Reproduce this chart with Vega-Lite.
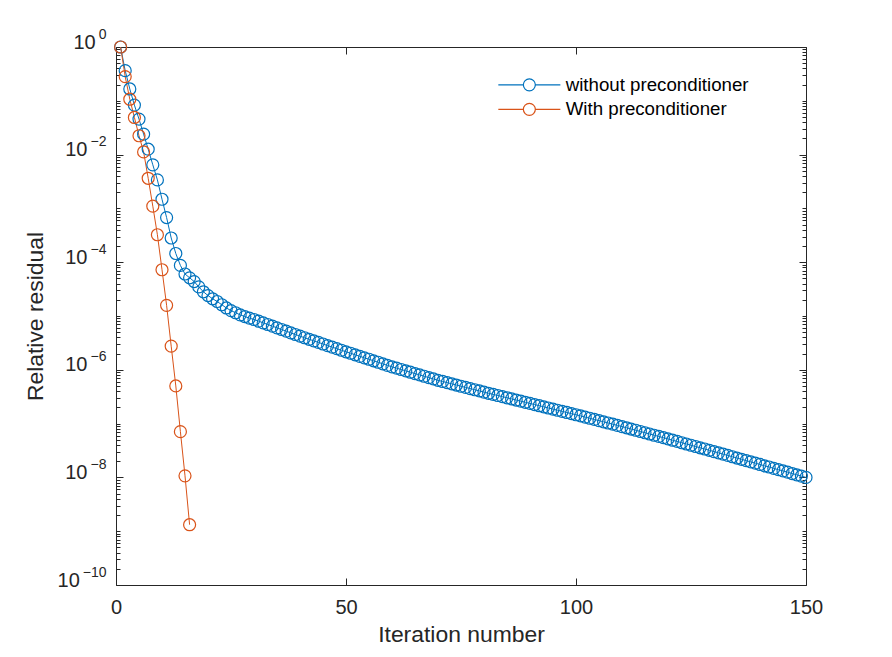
{
  "$schema": "https://vega.github.io/schema/vega-lite/v6.json",
  "autosize": {"type": "none"},
  "padding": {"left": 116, "top": 47, "right": 86, "bottom": 72},
  "width": 690,
  "height": 538,
  "background": "white",
  "data": {"name": "d"},
  "datasets": {
    "d": [
      {"i":1,"r":1,"s":"without preconditioner"},
      {"i":2,"r":0.363,"s":"without preconditioner"},
      {"i":3,"r":0.166,"s":"without preconditioner"},
      {"i":4,"r":0.0832,"s":"without preconditioner"},
      {"i":5,"r":0.0457,"s":"without preconditioner"},
      {"i":6,"r":0.024,"s":"without preconditioner"},
      {"i":7,"r":0.0126,"s":"without preconditioner"},
      {"i":8,"r":0.00646,"s":"without preconditioner"},
      {"i":9,"r":0.00339,"s":"without preconditioner"},
      {"i":10,"r":0.00148,"s":"without preconditioner"},
      {"i":11,"r":6.76e-4,"s":"without preconditioner"},
      {"i":12,"r":2.82e-4,"s":"without preconditioner"},
      {"i":13,"r":1.45e-4,"s":"without preconditioner"},
      {"i":14,"r":8.71e-5,"s":"without preconditioner"},
      {"i":15,"r":6.03e-5,"s":"without preconditioner"},
      {"i":16,"r":5.13e-5,"s":"without preconditioner"},
      {"i":17,"r":4.37e-5,"s":"without preconditioner"},
      {"i":18,"r":3.47e-5,"s":"without preconditioner"},
      {"i":19,"r":2.82e-5,"s":"without preconditioner"},
      {"i":20,"r":2.4e-5,"s":"without preconditioner"},
      {"i":21,"r":2.09e-5,"s":"without preconditioner"},
      {"i":22,"r":1.86e-5,"s":"without preconditioner"},
      {"i":23,"r":1.62e-5,"s":"without preconditioner"},
      {"i":24,"r":1.41e-5,"s":"without preconditioner"},
      {"i":25,"r":1.26e-5,"s":"without preconditioner"},
      {"i":26,"r":1.15e-5,"s":"without preconditioner"},
      {"i":27,"r":1.05e-5,"s":"without preconditioner"},
      {"i":28,"r":9.77e-6,"s":"without preconditioner"},
      {"i":29,"r":9.12e-6,"s":"without preconditioner"},
      {"i":30,"r":8.61e-6,"s":"without preconditioner"},
      {"i":31,"r":8.02e-6,"s":"without preconditioner"},
      {"i":32,"r":7.46e-6,"s":"without preconditioner"},
      {"i":33,"r":6.95e-6,"s":"without preconditioner"},
      {"i":34,"r":6.47e-6,"s":"without preconditioner"},
      {"i":35,"r":6.03e-6,"s":"without preconditioner"},
      {"i":36,"r":5.61e-6,"s":"without preconditioner"},
      {"i":37,"r":5.22e-6,"s":"without preconditioner"},
      {"i":38,"r":4.86e-6,"s":"without preconditioner"},
      {"i":39,"r":4.53e-6,"s":"without preconditioner"},
      {"i":40,"r":4.22e-6,"s":"without preconditioner"},
      {"i":41,"r":3.94e-6,"s":"without preconditioner"},
      {"i":42,"r":3.69e-6,"s":"without preconditioner"},
      {"i":43,"r":3.45e-6,"s":"without preconditioner"},
      {"i":44,"r":3.23e-6,"s":"without preconditioner"},
      {"i":45,"r":3.02e-6,"s":"without preconditioner"},
      {"i":46,"r":2.82e-6,"s":"without preconditioner"},
      {"i":47,"r":2.64e-6,"s":"without preconditioner"},
      {"i":48,"r":2.47e-6,"s":"without preconditioner"},
      {"i":49,"r":2.31e-6,"s":"without preconditioner"},
      {"i":50,"r":2.16e-6,"s":"without preconditioner"},
      {"i":51,"r":2.03e-6,"s":"without preconditioner"},
      {"i":52,"r":1.9e-6,"s":"without preconditioner"},
      {"i":53,"r":1.78e-6,"s":"without preconditioner"},
      {"i":54,"r":1.67e-6,"s":"without preconditioner"},
      {"i":55,"r":1.57e-6,"s":"without preconditioner"},
      {"i":56,"r":1.47e-6,"s":"without preconditioner"},
      {"i":57,"r":1.38e-6,"s":"without preconditioner"},
      {"i":58,"r":1.29e-6,"s":"without preconditioner"},
      {"i":59,"r":1.21e-6,"s":"without preconditioner"},
      {"i":60,"r":1.135e-6,"s":"without preconditioner"},
      {"i":61,"r":1.072e-6,"s":"without preconditioner"},
      {"i":62,"r":1.012e-6,"s":"without preconditioner"},
      {"i":63,"r":9.55e-7,"s":"without preconditioner"},
      {"i":64,"r":9.02e-7,"s":"without preconditioner"},
      {"i":65,"r":8.51e-7,"s":"without preconditioner"},
      {"i":66,"r":8.04e-7,"s":"without preconditioner"},
      {"i":67,"r":7.59e-7,"s":"without preconditioner"},
      {"i":68,"r":7.16e-7,"s":"without preconditioner"},
      {"i":69,"r":6.76e-7,"s":"without preconditioner"},
      {"i":70,"r":6.38e-7,"s":"without preconditioner"},
      {"i":71,"r":6.07e-7,"s":"without preconditioner"},
      {"i":72,"r":5.77e-7,"s":"without preconditioner"},
      {"i":73,"r":5.48e-7,"s":"without preconditioner"},
      {"i":74,"r":5.21e-7,"s":"without preconditioner"},
      {"i":75,"r":4.95e-7,"s":"without preconditioner"},
      {"i":76,"r":4.71e-7,"s":"without preconditioner"},
      {"i":77,"r":4.48e-7,"s":"without preconditioner"},
      {"i":78,"r":4.26e-7,"s":"without preconditioner"},
      {"i":79,"r":4.05e-7,"s":"without preconditioner"},
      {"i":80,"r":3.85e-7,"s":"without preconditioner"},
      {"i":81,"r":3.66e-7,"s":"without preconditioner"},
      {"i":82,"r":3.49e-7,"s":"without preconditioner"},
      {"i":83,"r":3.33e-7,"s":"without preconditioner"},
      {"i":84,"r":3.17e-7,"s":"without preconditioner"},
      {"i":85,"r":3.02e-7,"s":"without preconditioner"},
      {"i":86,"r":2.88e-7,"s":"without preconditioner"},
      {"i":87,"r":2.74e-7,"s":"without preconditioner"},
      {"i":88,"r":2.61e-7,"s":"without preconditioner"},
      {"i":89,"r":2.49e-7,"s":"without preconditioner"},
      {"i":90,"r":2.37e-7,"s":"without preconditioner"},
      {"i":91,"r":2.26e-7,"s":"without preconditioner"},
      {"i":92,"r":2.15e-7,"s":"without preconditioner"},
      {"i":93,"r":2.05e-7,"s":"without preconditioner"},
      {"i":94,"r":1.95e-7,"s":"without preconditioner"},
      {"i":95,"r":1.86e-7,"s":"without preconditioner"},
      {"i":96,"r":1.77e-7,"s":"without preconditioner"},
      {"i":97,"r":1.69e-7,"s":"without preconditioner"},
      {"i":98,"r":1.61e-7,"s":"without preconditioner"},
      {"i":99,"r":1.53e-7,"s":"without preconditioner"},
      {"i":100,"r":1.46e-7,"s":"without preconditioner"},
      {"i":101,"r":1.39e-7,"s":"without preconditioner"},
      {"i":102,"r":1.32e-7,"s":"without preconditioner"},
      {"i":103,"r":1.256e-7,"s":"without preconditioner"},
      {"i":104,"r":1.194e-7,"s":"without preconditioner"},
      {"i":105,"r":1.135e-7,"s":"without preconditioner"},
      {"i":106,"r":1.079e-7,"s":"without preconditioner"},
      {"i":107,"r":1.026e-7,"s":"without preconditioner"},
      {"i":108,"r":9.75e-8,"s":"without preconditioner"},
      {"i":109,"r":9.27e-8,"s":"without preconditioner"},
      {"i":110,"r":8.81e-8,"s":"without preconditioner"},
      {"i":111,"r":8.36e-8,"s":"without preconditioner"},
      {"i":112,"r":7.92e-8,"s":"without preconditioner"},
      {"i":113,"r":7.52e-8,"s":"without preconditioner"},
      {"i":114,"r":7.13e-8,"s":"without preconditioner"},
      {"i":115,"r":6.76e-8,"s":"without preconditioner"},
      {"i":116,"r":6.41e-8,"s":"without preconditioner"},
      {"i":117,"r":6.08e-8,"s":"without preconditioner"},
      {"i":118,"r":5.77e-8,"s":"without preconditioner"},
      {"i":119,"r":5.47e-8,"s":"without preconditioner"},
      {"i":120,"r":5.19e-8,"s":"without preconditioner"},
      {"i":121,"r":4.91e-8,"s":"without preconditioner"},
      {"i":122,"r":4.66e-8,"s":"without preconditioner"},
      {"i":123,"r":4.41e-8,"s":"without preconditioner"},
      {"i":124,"r":4.18e-8,"s":"without preconditioner"},
      {"i":125,"r":3.96e-8,"s":"without preconditioner"},
      {"i":126,"r":3.75e-8,"s":"without preconditioner"},
      {"i":127,"r":3.55e-8,"s":"without preconditioner"},
      {"i":128,"r":3.37e-8,"s":"without preconditioner"},
      {"i":129,"r":3.19e-8,"s":"without preconditioner"},
      {"i":130,"r":3.02e-8,"s":"without preconditioner"},
      {"i":131,"r":2.86e-8,"s":"without preconditioner"},
      {"i":132,"r":2.7e-8,"s":"without preconditioner"},
      {"i":133,"r":2.56e-8,"s":"without preconditioner"},
      {"i":134,"r":2.42e-8,"s":"without preconditioner"},
      {"i":135,"r":2.29e-8,"s":"without preconditioner"},
      {"i":136,"r":2.17e-8,"s":"without preconditioner"},
      {"i":137,"r":2.05e-8,"s":"without preconditioner"},
      {"i":138,"r":1.94e-8,"s":"without preconditioner"},
      {"i":139,"r":1.84e-8,"s":"without preconditioner"},
      {"i":140,"r":1.74e-8,"s":"without preconditioner"},
      {"i":141,"r":1.64e-8,"s":"without preconditioner"},
      {"i":142,"r":1.56e-8,"s":"without preconditioner"},
      {"i":143,"r":1.47e-8,"s":"without preconditioner"},
      {"i":144,"r":1.39e-8,"s":"without preconditioner"},
      {"i":145,"r":1.32e-8,"s":"without preconditioner"},
      {"i":146,"r":1.25e-8,"s":"without preconditioner"},
      {"i":147,"r":1.18e-8,"s":"without preconditioner"},
      {"i":148,"r":1.117e-8,"s":"without preconditioner"},
      {"i":149,"r":1.057e-8,"s":"without preconditioner"},
      {"i":150,"r":1.0e-8,"s":"without preconditioner"},
      {"i":1,"r":1,"s":"With preconditioner"},
      {"i":2,"r":0.282,"s":"With preconditioner"},
      {"i":3,"r":0.107,"s":"With preconditioner"},
      {"i":4,"r":0.049,"s":"With preconditioner"},
      {"i":5,"r":0.0224,"s":"With preconditioner"},
      {"i":6,"r":0.0112,"s":"With preconditioner"},
      {"i":7,"r":0.00363,"s":"With preconditioner"},
      {"i":8,"r":0.0011,"s":"With preconditioner"},
      {"i":9,"r":3.24e-4,"s":"With preconditioner"},
      {"i":10,"r":7.24e-5,"s":"With preconditioner"},
      {"i":11,"r":1.58e-5,"s":"With preconditioner"},
      {"i":12,"r":2.75e-6,"s":"With preconditioner"},
      {"i":13,"r":5.01e-7,"s":"With preconditioner"},
      {"i":14,"r":7.08e-8,"s":"With preconditioner"},
      {"i":15,"r":1.07e-8,"s":"With preconditioner"},
      {"i":16,"r":1.32e-9,"s":"With preconditioner"}
    ]
  },
  "layer": [
    {
      "mark": {"type": "line", "strokeWidth": 1, "clip": false},
      "encoding": {
        "x": {"field": "i", "type": "quantitative", "scale": {"domain": [0, 150], "nice": false, "zero": false},
              "axis": {"orient": "bottom", "values": [0, 50, 100, 150], "tickSize": -7, "labelPadding": 35, "labelBaseline": "alphabetic", "labelFontSize": 20, "title": "Iteration number", "titleFontSize": 22.9, "titlePadding": 6}},
        "y": {"field": "r", "type": "quantitative", "scale": {"type": "log", "domain": [1e-10, 1], "nice": false},
              "axis": {"orient": "left", "values": [1, 0.01, 1e-4, 1e-6, 1e-8, 1e-10], "tickSize": -7, "labels": false, "title": null}},
        "color": {"field": "s", "type": "nominal",
                  "scale": {"domain": ["without preconditioner", "With preconditioner"], "range": ["#0072BD", "#D95319"]},
                  "legend": {"orient": "none", "legendX": 404, "legendY": 28.5, "title": null,
                             "symbolType": "M-5.17,0L-1,0M1,0L5.17,0M-1,0A1,1 0 1 0 1,0A1,1 0 1 0 -1,0",
                             "symbolSize": 144, "symbolStrokeWidth": 1.2, "symbolFillColor": "transparent",
                             "labelFontSize": 18.7, "labelOffset": 27, "labelLimit": 0, "rowPadding": 4.5, "padding": 0, "labelColor": "#000000"}}
      }
    },
    {
      "mark": {"type": "point", "filled": false, "size": 144, "strokeWidth": 1.2, "opacity": 1, "clip": false},
      "encoding": {
        "x": {"field": "i", "type": "quantitative",
              "axis": {"orient": "top", "values": [0, 50, 100, 150], "tickSize": -7, "labels": false, "title": null}},
        "y": {"field": "r", "type": "quantitative",
              "axis": {"orient": "right", "values": [1, 0.01, 1e-4, 1e-6, 1e-8, 1e-10], "tickSize": -7, "labels": false, "title": null}},
        "color": {"field": "s", "type": "nominal",
                  "legend": {"orient": "none", "legendX": 404, "legendY": 28.5, "title": null,
                             "symbolType": "M-5.17,0L-1,0M1,0L5.17,0M-1,0A1,1 0 1 0 1,0A1,1 0 1 0 -1,0",
                             "symbolSize": 144, "symbolStrokeWidth": 1.2, "symbolFillColor": "transparent",
                             "labelFontSize": 18.7, "labelOffset": 27, "labelLimit": 0, "rowPadding": 4.5, "padding": 0, "labelColor": "#000000"}}
      }
    },
    {
      "mark": {"type": "point", "opacity": 0},
      "encoding": {
        "x": {"field": "i", "type": "quantitative", "axis": null},
        "y": {"field": "r", "type": "quantitative",
              "axis": {"orient": "left", "tickSize": -4, "labels": false, "title": null,
                       "values": [2e-10,3e-10,4e-10,5e-10,6e-10,7e-10,8e-10,9e-10,1e-9,2e-9,3e-9,4e-9,5e-9,6e-9,7e-9,8e-9,9e-9,2e-8,3e-8,4e-8,5e-8,6e-8,7e-8,8e-8,9e-8,1e-7,2e-7,3e-7,4e-7,5e-7,6e-7,7e-7,8e-7,9e-7,2e-6,3e-6,4e-6,5e-6,6e-6,7e-6,8e-6,9e-6,1e-5,2e-5,3e-5,4e-5,5e-5,6e-5,7e-5,8e-5,9e-5,2e-4,3e-4,4e-4,5e-4,6e-4,7e-4,8e-4,9e-4,1e-3,2e-3,3e-3,4e-3,5e-3,6e-3,7e-3,8e-3,9e-3,0.02,0.03,0.04,0.05,0.06,0.07,0.08,0.09,0.1,0.2,0.3,0.4,0.5,0.6,0.7,0.8,0.9]}}
      }
    },
    {
      "mark": {"type": "point", "opacity": 0},
      "encoding": {
        "x": {"field": "i", "type": "quantitative", "axis": null},
        "y": {"field": "r", "type": "quantitative",
              "axis": {"orient": "right", "tickSize": -4, "labels": false, "title": null,
                       "values": [2e-10,3e-10,4e-10,5e-10,6e-10,7e-10,8e-10,9e-10,1e-9,2e-9,3e-9,4e-9,5e-9,6e-9,7e-9,8e-9,9e-9,2e-8,3e-8,4e-8,5e-8,6e-8,7e-8,8e-8,9e-8,1e-7,2e-7,3e-7,4e-7,5e-7,6e-7,7e-7,8e-7,9e-7,2e-6,3e-6,4e-6,5e-6,6e-6,7e-6,8e-6,9e-6,1e-5,2e-5,3e-5,4e-5,5e-5,6e-5,7e-5,8e-5,9e-5,2e-4,3e-4,4e-4,5e-4,6e-4,7e-4,8e-4,9e-4,1e-3,2e-3,3e-3,4e-3,5e-3,6e-3,7e-3,8e-3,9e-3,0.02,0.03,0.04,0.05,0.06,0.07,0.08,0.09,0.1,0.2,0.3,0.4,0.5,0.6,0.7,0.8,0.9]}}
      }
    },
    {
      "mark": {"type": "point", "opacity": 0},
      "encoding": {
        "x": {"field": "i", "type": "quantitative", "axis": null},
        "y": {"field": "r", "type": "quantitative",
              "axis": {"orient": "left", "values": [1, 0.01, 1e-4, 1e-6, 1e-8, 1e-10], "ticks": false, "labelPadding": 10,
                       "labelFontSize": 14, "labelBaseline": "alphabetic", "labelOffset": -9, "labelAlign": "right",
                       "labelExpr": "datum.value > 0.5 ? '0' : datum.value > 5e-3 ? '−2' : datum.value > 5e-5 ? '−4' : datum.value > 5e-7 ? '−6' : datum.value > 5e-9 ? '−8' : '−10'",
                       "title": null}}
      }
    },
    {
      "mark": {"type": "point", "opacity": 0},
      "encoding": {
        "x": {"field": "i", "type": "quantitative", "axis": null},
        "y": {"field": "r", "type": "quantitative",
              "axis": {"orient": "left", "values": [1], "ticks": false, "labelPadding": 20.8,
                       "labelFontSize": 20, "labelBaseline": "alphabetic", "labelOffset": 1, "labelAlign": "right",
                       "labelExpr": "'10'", "title": null}}
      }
    },
    {
      "mark": {"type": "point", "opacity": 0},
      "encoding": {
        "x": {"field": "i", "type": "quantitative", "axis": null},
        "y": {"field": "r", "type": "quantitative",
              "axis": {"orient": "left", "values": [0.01, 1e-4, 1e-6, 1e-8], "ticks": false, "labelPadding": 29,
                       "labelFontSize": 20, "labelBaseline": "alphabetic", "labelOffset": 1, "labelAlign": "right",
                       "labelExpr": "'10'", "title": null}}
      }
    },
    {
      "mark": {"type": "point", "opacity": 0},
      "encoding": {
        "x": {"field": "i", "type": "quantitative", "axis": null},
        "y": {"field": "r", "type": "quantitative",
              "axis": {"orient": "left", "values": [1e-10], "ticks": false, "labelPadding": 36.7,
                       "labelFontSize": 20, "labelBaseline": "alphabetic", "labelOffset": 1, "labelAlign": "right",
                       "labelExpr": "'10'", "title": "Relative residual", "titleFontSize": 22.9, "titlePadding": 10}}
      }
    }
  ],
  "resolve": {"axis": {"x": "independent", "y": "independent"}},
  "config": {
    "font": "Liberation Sans",
    "view": {"stroke": "#262626", "strokeWidth": 1},
    "axis": {"grid": false, "domain": false, "tickColor": "#262626", "tickWidth": 1, "labelColor": "#262626", "titleColor": "#262626",
             "labelFontSize": 20, "titleFontSize": 22.9, "titleFontWeight": "normal", "labelFont": "Liberation Sans", "titleFont": "Liberation Sans",
             "labelFlush": false, "labelOverlap": false}
  }
}
